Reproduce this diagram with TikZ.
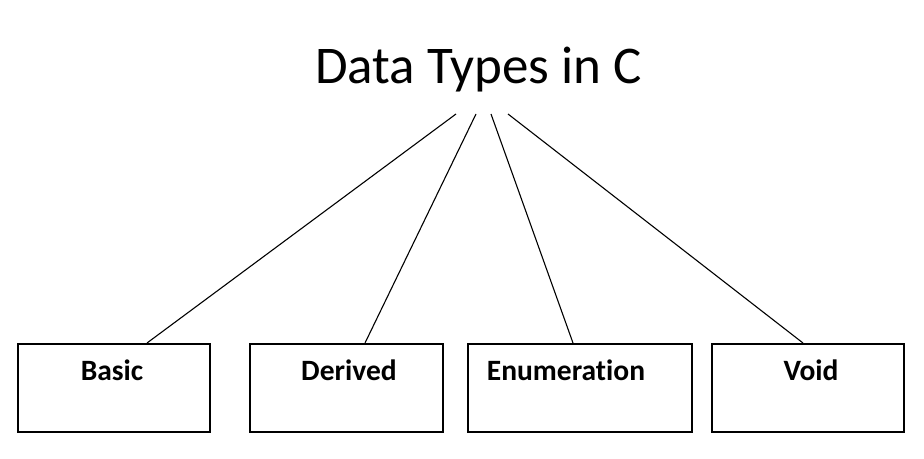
\documentclass[tikz,border=0pt]{standalone}
\usepackage{fontspec}
\setmainfont[Ligatures=NoCommon]{Carlito}
\usetikzlibrary{calc}
\begin{document}
\begin{tikzpicture}[x=1pt,y=-1pt,
  typebox/.style={draw=black, line width=1.6pt, minimum width=#1, minimum height=88pt, inner sep=0pt, anchor=north west},
  boxtext/.style={font=\fontsize{29.5}{32}\selectfont\bfseries, anchor=base, inner sep=0pt},
  link/.style={draw=black, line width=1.1pt}]
\useasboundingbox[fill=white] (0,0) rectangle (924,458);
\node[font=\fontsize{53}{58}\selectfont, anchor=base, inner sep=0pt] (title) at (478.5,83) {Data Types in C};
\node[typebox=192pt] (basic) at (17,343) {};
\node[typebox=193pt] (derived) at (249,343) {};
\node[typebox=224pt] (enum) at (467,343) {};
\node[typebox=192pt] (void) at (711,343) {};
\node[boxtext] (tbasic) at (112,380) {Basic};
\node[boxtext] (tderived) at (349,380) {Derived};
\node[boxtext] (tenum) at (566,380) {Enumeration};
\node[boxtext] (tvoid) at (811,380) {Void};
\coordinate (s1) at (456,114);
\coordinate (s2) at (476,114);
\coordinate (s3) at (491,114);
\coordinate (s4) at (508,114);
\draw[link] (s1) -- ($(basic.north west)+(130,0)$);
\draw[link] (s2) -- ($(derived.north west)+(116,0)$);
\draw[link] (s3) -- ($(enum.north west)+(106,0)$);
\draw[link] (s4) -- ($(void.north west)+(92,0)$);
\end{tikzpicture}
\end{document}
